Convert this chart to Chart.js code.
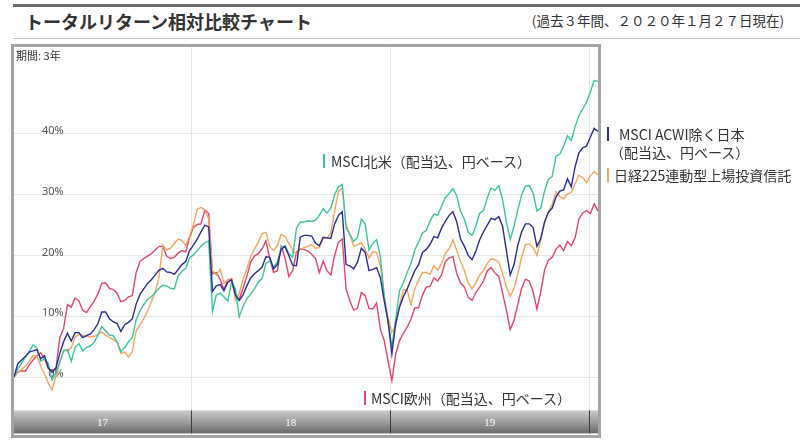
<!DOCTYPE html>
<html><head><meta charset="utf-8">
<script src="https://cdn.jsdelivr.net/npm/chart.js@4.4.1/dist/chart.umd.min.js"></script>
<style>
html,body{margin:0;padding:0;background:#fff;}
body{width:800px;height:445px;position:relative;overflow:hidden;font-family:"Noto Sans CJK JP","Noto Sans",sans-serif;color:#333;}
.topline{position:absolute;left:13px;top:4px;width:787px;height:3px;background:#6b6b6b;}
.subline{position:absolute;left:13px;top:38px;width:787px;height:1px;background:#c4c4c4;}
.title{position:absolute;left:25px;top:8px;font-size:18px;font-weight:bold;line-height:26px;color:#333;}
.asof{position:absolute;right:16px;top:10px;font-size:13.5px;line-height:20px;color:#333;}
.frame{position:absolute;left:11px;top:44px;width:584px;height:388px;border:3px solid #a4a4a4;}
canvas{position:absolute;left:0;top:0;}
.period{position:absolute;left:16px;top:47px;font-size:11px;line-height:16px;color:#333;}
.lbl{position:absolute;font-size:14px;line-height:18px;white-space:nowrap;color:#333;}
.bar{position:absolute;width:2px;height:14px;}
</style></head>
<body>
<div class="topline"></div>
<div class="title">トータルリターン相対比較チャート</div>
<div class="asof">(過去３年間、２０２０年１月２７日現在)</div>
<div class="subline"></div>
<div class="frame"></div>
<canvas id="c" width="800" height="445" style="width:800px;height:445px"></canvas>
<div class="period">期間: 3年</div>
<div class="bar" style="left:323px;top:154px;background:#3ac69b"></div>
<div class="lbl" style="left:331px;top:152px">MSCI北米（配当込、円ベース）</div>
<div class="bar" style="left:364px;top:391px;background:#e2456b"></div>
<div class="lbl" style="left:371px;top:389px">MSCI欧州（配当込、円ベース）</div>
<div class="bar" style="left:607px;top:127px;background:#2c2c96"></div>
<div class="lbl" style="left:619px;top:125px">MSCI ACWI除く日本</div>
<div class="lbl" style="left:610px;top:143px">（配当込、円ベース）</div>
<div class="bar" style="left:607px;top:168px;background:#f2a65e"></div>
<div class="lbl" style="left:614px;top:166px">日経225連動型上場投資信託</div>
<script>
// weekly observation dates (first = 2017-02-10)
const startDate = Date.UTC(2017, 1, 10);
const weekCount = 154;
const weeks = [];
for (let i = 0; i < weekCount; i++) weeks.push(startDate + i * 7 * 86400000);

const yearStarts = [Date.UTC(2018,0,1), Date.UTC(2019,0,1), Date.UTC(2020,0,1)];
const yearLabels = ['17', '18', '19'];
const yTicks = [0, 10, 20, 30, 40];

// total return (%) — MSCI 北米
const northAmerica = [
0,1.3,2.3,3.3,4.2,5.3,4.8,2.6,3.0,2.2,
-0.5,0.7,2.5,4.3,4.5,2.6,4.9,5.5,4.3,4.9,
5.1,5.7,6.9,8.3,7.6,6.9,6.8,5.8,4.2,4.8,
5.8,6.5,9.4,10.9,11.9,12.8,13.2,13.9,14.6,15.1,
15.0,14.6,14.5,16.6,17.4,17.9,19.6,20.1,20.8,21.5,
22.1,22.4,10.8,13.5,13.8,13.2,12.5,15.6,14.5,9.9,
11.6,12.9,13.6,14.5,15.6,16.2,18.7,19.1,18.1,18.9,
21.3,21.6,20.3,19.7,24.5,25.5,25.5,25.7,25.6,25.8,
26.6,27.7,27.0,27.8,30.0,31.3,31.7,24.5,23.5,22.3,
23.0,26.0,25.2,20.9,22.0,22.6,19.7,13.2,9.0,5.0,
9.5,14.2,15.5,17.2,18.7,20.9,22.2,23.7,24.1,25.7,
26.8,26.6,28.1,29.5,30.2,31.0,29.8,27.2,26.0,23.8,
23.3,24.8,26.9,27.4,29.5,31.1,30.7,31.5,29.2,25.5,
22.6,24.8,27.5,30.0,31.4,31.5,30.3,27.3,27.8,30.6,
32.5,33.0,36.3,36.7,38.0,39.7,38.9,41.2,43.0,44.1,
45.2,46.9,48.8,48.6];

// MSCI ACWI除く日本
const acwiExJapan = [
0,2.2,2.8,3.4,4.1,4.3,4.5,3.0,3.5,1.5,
0.8,1.5,3.9,5.8,7.2,5.9,7.3,7.3,6.5,6.8,
7.1,7.8,8.8,10.7,10.7,9.6,9.1,8.8,7.5,8.6,
9.0,9.6,12.0,13.6,14.5,15.4,16.0,16.8,17.6,17.9,
17.3,17.2,16.9,17.7,18.5,19.0,20.8,21.7,22.7,23.9,
25.0,24.7,14.1,15.0,15.2,14.2,15.6,16.0,13.5,12.6,
13.5,15.0,16.3,17.0,17.5,18.1,19.8,19.7,17.8,18.5,
21.0,21.5,20.0,18.4,18.3,23.0,23.3,23.3,23.2,22.0,
21.6,23.0,22.9,22.8,25.2,26.6,27.2,18.5,18.3,17.8,
18.9,21.2,20.5,17.5,17.7,18.0,16.3,12.5,9.2,3.8,
8.8,11.5,13.2,14.5,16.0,17.5,18.5,20.5,21.0,21.8,
23.1,22.9,24.5,25.6,26.6,27.2,25.5,22.7,21.5,20.0,
19.3,20.7,22.6,23.9,25.0,26.1,25.9,26.4,24.8,20.8,
16.8,18.5,21.7,23.9,25.2,25.2,24.6,21.5,22.8,25.5,
27.1,27.8,29.6,30.6,30.8,32.6,31.3,34.6,36.9,37.7,
38.0,39.5,40.9,40.4];

// 日経225連動型上場投資信託
const nikkeiEtf = [
0,0.8,1.3,1.8,2.6,3.5,3.4,1.8,0.5,-1.0,
-2.1,0.2,2.3,4.4,4.3,4.8,6.6,7.0,6.9,6.7,
6.6,6.7,7.0,7.4,6.9,6.5,6.2,5.7,3.9,4.1,
3.3,4.2,7.6,8.6,9.6,10.9,12.4,14.0,16.5,21.7,
20.9,21.2,22.0,22.7,22.5,21.6,23.2,25.0,27.6,27.9,
27.5,26.0,17.5,16.8,17.7,15.5,15.9,16.2,12.7,13.8,
16.1,17.8,19.8,21.1,22.2,23.6,23.8,21.5,20.8,21.6,
23.5,23.1,22.0,20.9,20.2,21.0,21.3,21.5,21.8,21.2,
21.3,22.9,22.8,23.7,27.3,30.6,31.1,25.0,23.4,21.5,
21.8,22.1,21.0,19.6,20.6,20.5,18.3,13.3,9.8,7.4,
8.5,11.8,14.4,14.3,11.9,14.5,15.9,17.2,17.2,16.9,
18.3,17.6,18.6,20.4,21.1,22.6,20.8,19.0,17.5,15.5,
14.5,15.5,16.8,17.5,18.7,19.5,19.3,18.9,17.1,14.8,
13.3,14.6,17.0,19.7,21.8,21.9,21.3,20.0,22.6,25.4,
27.2,28.4,30.5,29.7,29.3,30.1,30.4,31.8,33.2,32.8,
32.0,33.1,33.8,33.3];

// MSCI欧州
const europe = [
0,0.8,1.0,1.0,2.0,2.8,3.5,4.0,3.0,1.4,
1.0,1.4,6.5,8.0,11.9,11.5,13.0,12.5,11.0,10.6,
11.6,12.5,13.7,15.4,15.5,14.6,14.4,13.8,12.4,12.6,
13.2,13.4,17.2,19.0,19.5,19.9,20.3,20.9,21.5,21.5,
19.9,19.5,19.7,20.4,20.8,20.6,23.0,24.6,25.1,25.2,
27.5,26.9,17.0,17.2,16.1,14.4,16.0,16.2,13.3,12.8,
14.6,16.6,18.9,19.9,20.3,21.1,22.4,19.5,17.2,17.5,
21.5,19.6,16.5,17.5,20.5,21.1,21.0,20.7,20.2,19.5,
17.2,19.1,17.5,16.8,20.0,22.2,22.7,14.5,12.5,11.0,
11.3,13.9,13.4,11.3,11.2,12.2,7.8,6.0,2.6,-0.6,
3.8,6.0,7.2,8.2,9.5,11.4,11.4,13.5,14.8,14.9,
16.3,15.8,16.8,19.0,19.6,19.8,17.0,15.5,14.8,13.1,
12.6,13.9,14.8,15.8,17.5,18.0,17.1,16.6,13.8,11.0,
7.8,9.3,12.0,14.6,16.1,15.8,14.0,11.2,14.0,17.6,
19.2,19.7,21.0,21.7,20.8,22.3,21.6,22.9,26.0,27.0,
27.4,26.9,28.5,27.3];

const toPts = arr => arr.map((v, i) => ({x: weeks[i], y: v}));

const yearBar = {
  id: 'yearBar',
  afterDraw(chart) {
    const {ctx, chartArea: a, scales: {x}} = chart;
    const top = a.bottom, h = 23;
    const g = ctx.createLinearGradient(0, top, 0, top + h);
    g.addColorStop(0, '#c9c9c9');
    g.addColorStop(0.45, '#a2a2a2');
    g.addColorStop(1, '#6a6a6a');
    ctx.save();
    ctx.fillStyle = g;
    ctx.fillRect(a.left, top, a.right - a.left, h);
    const bounds = [a.left, ...yearStarts.map(v => x.getPixelForValue(v)), a.right];
    ctx.strokeStyle = '#3a3a3a';
    ctx.lineWidth = 1;
    yearStarts.forEach(v => {
      const px = Math.round(x.getPixelForValue(v)) + 0.5;
      ctx.beginPath(); ctx.moveTo(px, top); ctx.lineTo(px, top + h); ctx.stroke();
    });
    ctx.fillStyle = '#ffffff';
    ctx.font = '11px "Liberation Serif", serif';
    ctx.textAlign = 'center';
    ctx.textBaseline = 'middle';
    yearLabels.forEach((t, i) => ctx.fillText(t, (bounds[i] + bounds[i + 1]) / 2, top + h / 2 + 1));
    ctx.restore();
  }
};

const ds = (label, data, color) => ({
  label, data: toPts(data), borderColor: color, borderWidth: 1.4,
  pointRadius: 0, tension: 0, fill: false
});

new Chart(document.getElementById('c'), {
  type: 'line',
  data: {
    datasets: [
      ds('MSCI ACWI除く日本（配当込、円ベース）', acwiExJapan, '#2c2c96'),
      ds('MSCI北米（配当込、円ベース）', northAmerica, '#3ac69b'),
      ds('日経225連動型上場投資信託', nikkeiEtf, '#f2a65e'),
      ds('MSCI欧州（配当込、円ベース）', europe, '#e2456b')
    ]
  },
  options: {
    responsive: false,
    animation: false,
    devicePixelRatio: 1,
    layout: {padding: {left: 14, right: 202, top: 47, bottom: 33}},
    plugins: {legend: {display: false}, tooltip: {enabled: false}},
    scales: {
      x: {
        type: 'linear',
        min: weeks[0], max: weeks[weeks.length - 1],
        afterBuildTicks: s => { s.ticks = yearStarts.map(v => ({value: v})); },
        afterFit: s => { s.height = 0; },
        ticks: {display: false},
        grid: {color: '#e6e6e6', drawTicks: false},
        border: {display: false}
      },
      y: {
        min: -5.49, max: 54.3,
        afterBuildTicks: s => { s.ticks = yTicks.map(v => ({value: v})); },
        afterFit: s => { s.width = 0; },
        ticks: {
          mirror: true, padding: 28, crossAlign: 'far', labelOffset: -3,
          color: '#555', font: {size: 11, family: '"Noto Sans", sans-serif'},
          callback: v => v + '%'
        },
        grid: {color: '#e6e6e6', drawTicks: false},
        border: {display: false}
      }
    }
  },
  plugins: [yearBar]
});
</script>
</body></html>
